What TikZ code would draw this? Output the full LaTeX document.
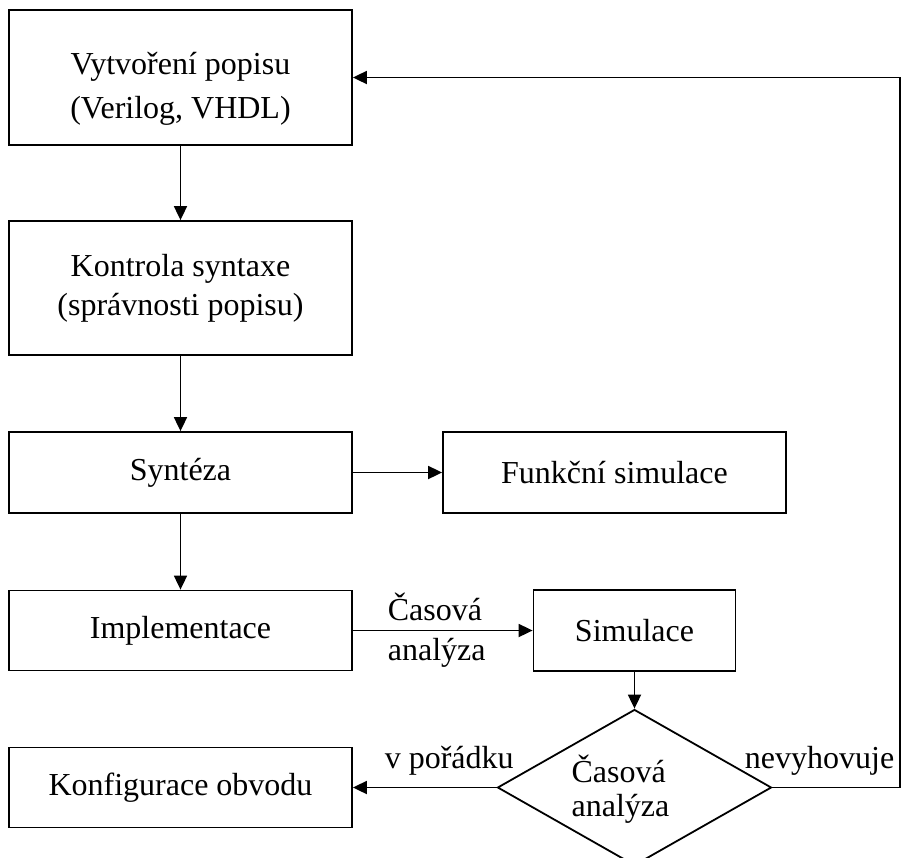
\documentclass[tikz,border=0pt]{standalone}
\usepackage{fontspec}
\setmainfont{Liberation Serif}
\usetikzlibrary{positioning,arrows.meta,shapes.geometric}

\begin{document}
\begin{tikzpicture}[x=0.5pt,y=-0.5pt,>={Triangle[length=7pt,width=6.5pt]},
  every node/.style={font=\fontsize{16}{19.5}\selectfont},
  box/.style={draw,line width=0.9pt,align=center,inner sep=0pt,minimum width=171.5pt},
  conn/.style={line width=0.9pt}]
\useasboundingbox (0,0) rectangle (901,858);
\node[box,minimum height=67.5pt] (cre) at (180.5,77.5) {\rule{0pt}{22pt}Vytvoření popisu\\[2.5pt](Verilog, VHDL)};
\node[box,minimum height=67pt] (kon) at (180.5,288) {Kontrola syntaxe\\(správnosti popisu)};
\node[box,minimum height=40.5pt] (syn) at (180.5,472.5) {Syntéza};
\node[box,minimum height=40.5pt] (fun) at (614.5,472.5) {Funkční simulace};
\node[box,minimum height=40pt] (imp) at (180.5,630.5) {Implementace};
\node[box,minimum width=101pt,minimum height=40.5pt] (sim) at (634.5,630.5) {Simulace};
\node[draw,line width=0.9pt,diamond,inner sep=0pt,minimum width=137pt,minimum height=78pt,
  label={[align=left,font=\fontsize{16}{17}\selectfont,xshift=-7pt,yshift=-1pt]center:Časová\\analýza}] (dec) at (634.5,787.5) {};
\node[box,minimum height=40pt] (cfg) at (180.5,787.5) {Konfigurace obvodu};
\coordinate (rc) at (900,787.5);
\draw[->,conn] (cre) -- (kon);
\draw[->,conn] (kon) -- (syn);
\draw[->,conn] (syn) -- (fun);
\draw[->,conn] (syn) -- (imp);
\draw[->,conn] (imp) -- node[align=left,xshift=-3pt,font=\fontsize{16}{20}\selectfont] {Časová\\analýza} (sim);
\draw[->,conn] (sim) -- (dec);
\draw[->,conn] (dec.west) -- node[above=2.5pt,pos=0.33] {v pořádku} (cfg.east);
\draw[->,conn] (dec.east) -- node[above=2.5pt,pos=0.37] {nevyhovuje} (rc) |- (cre.east);
\end{tikzpicture}
\end{document}
